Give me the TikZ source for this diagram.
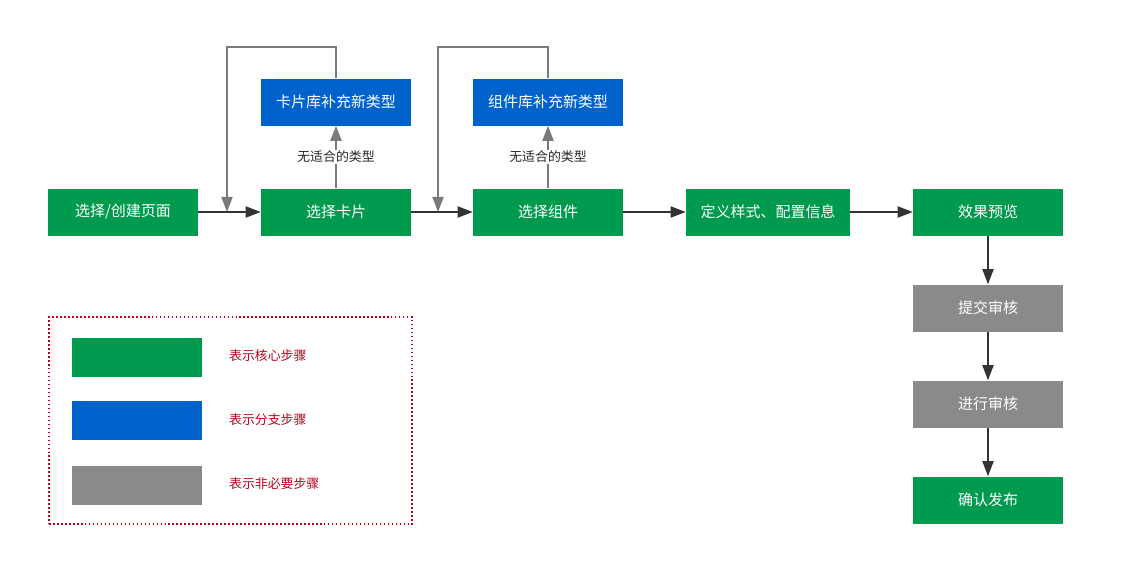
\documentclass[tikz,border=0pt]{standalone}
\usepackage{fontspec}
\setmainfont{Noto Sans CJK SC}
\usepackage{tikz}
\usetikzlibrary{arrows.meta,positioning,calc}
\definecolor{coregreen}{HTML}{009A4E}
\definecolor{branchblue}{HTML}{0063CC}
\definecolor{optgray}{HTML}{8A8A8A}
\definecolor{lgdred}{HTML}{C0001A}
\definecolor{arrdark}{HTML}{333333}
\definecolor{arrgray}{HTML}{7A7A7A}

\begin{document}
\begin{tikzpicture}[
    x=0.03cm, y=-0.03cm,
    core/.style={fill=coregreen, text=white, minimum width=4.5cm, minimum height=1.41cm, align=center, font=\fontsize{12.8}{14}\selectfont, inner sep=0pt},
    branch/.style={core, fill=branchblue},
    optional/.style={core, fill=optgray},
    swatch/.style={minimum width=3.9cm, minimum height=1.17cm, inner sep=0pt},
    arr/.style={-{Triangle[length=13pt, width=9.5pt]}, line width=1.7pt, draw=arrdark},
    garr/.style={-{Triangle[length=13pt, width=9.5pt]}, line width=1.7pt, draw=arrgray},
    lbl/.style={font=\fontsize{11}{12}\selectfont, fill=white, inner sep=1pt, text=black!85},
    lgd/.style={font=\fontsize{11}{12}\selectfont, text=lgdred, anchor=west}
]
\useasboundingbox (0,0) rectangle (1125,587);

\node[core] (page) at (123,212) {选择/创建页面};
\node[core] (card) at (336,212) {选择卡片};
\node[branch] (cardlib) at (336,102) {卡片库补充新类型};
\node[core] (comp) at (548,212) {选择组件};
\node[branch] (complib) at (548,102) {组件库补充新类型};
\node[core, minimum width=4.92cm] (style) at (768,212) {定义样式、配置信息};
\node[core] (preview) at (988,212) {效果预览};
\node[optional] (submit) at (988,308) {提交审核};
\node[optional] (review) at (988,404) {进行审核};
\node[core] (publish) at (988,500) {确认发布};

\coordinate (back1) at (227,212);
\coordinate (back2) at (438,212);

\draw[arr] (page) -- (card);
\draw[arr] (card) -- (comp);
\draw[arr] (comp) -- (style);
\draw[arr] (style) -- (preview);
\draw[arr] (preview) -- (submit);
\draw[arr] (submit) -- (review);
\draw[arr] (review) -- (publish);

\draw[garr] (card) -- node[lbl] {无适合的类型} (cardlib);
\draw[garr] (comp) -- node[lbl] {无适合的类型} (complib);
\draw[garr] (cardlib.north) -- ++(0,-31) -| (back1);
\draw[garr] (complib.north) -- ++(0,-31) -| (back2);

\node[draw=lgdred, dotted, line width=1.4pt, minimum width=10.89cm, minimum height=6.21cm] (legend) at (230.5,420.5) {};
\node[swatch, fill=coregreen] (sw1) at (137,357) {};
\node[swatch, fill=branchblue] (sw2) at (137,420) {};
\node[swatch, fill=optgray] (sw3) at (137,485) {};
\node[lgd] (t1) at (225,356) {表示核心步骤};
\node[lgd] (t2) at (225,420) {表示分支步骤};
\node[lgd] (t3) at (225,484) {表示非必要步骤};
\end{tikzpicture}
\end{document}
